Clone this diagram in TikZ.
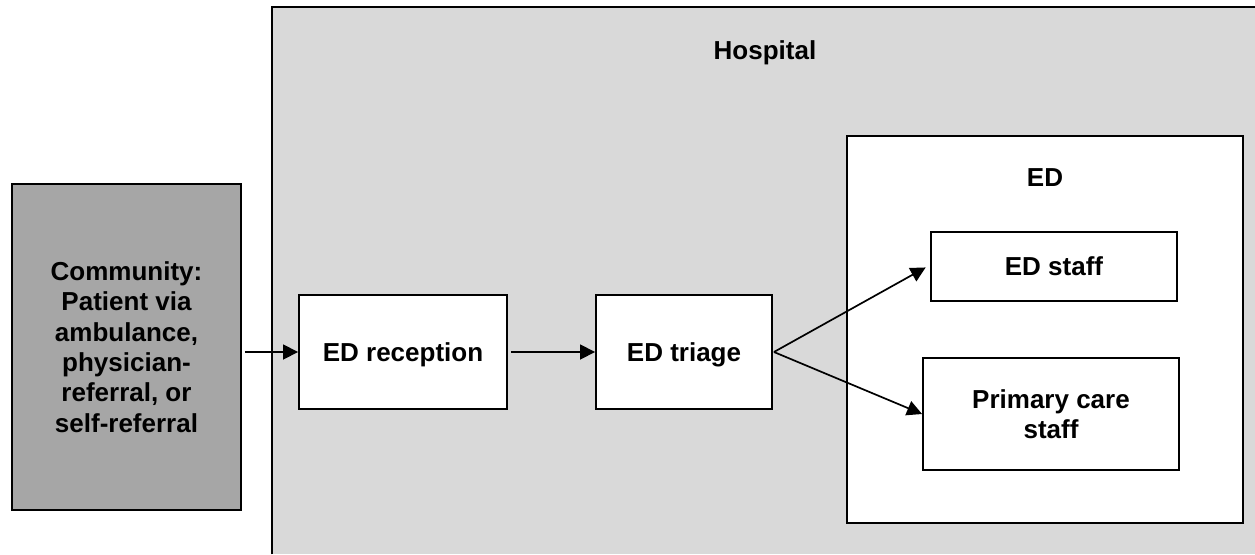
\documentclass[tikz,border=0pt]{standalone}
\usepackage{fontspec}
\setmainfont{Liberation Sans}
\usetikzlibrary{arrows.meta}
\definecolor{commgray}{HTML}{A6A6A6}
\definecolor{hospgray}{HTML}{D9D9D9}
\tikzset{
  lbl/.style={inner sep=0pt, font=\bfseries\fontsize{26}{30.4}\selectfont, align=center},
  box/.style={lbl, draw=black, line width=1.9pt, fill=white},
  arr/.style={line width=1.7pt, draw=black, -{Triangle[length=15pt,width=15pt]}},
  border/.style={line width=1.9pt, draw=black}
}
\begin{document}
\begin{tikzpicture}[x=1pt,y=-1pt]
\useasboundingbox (0,0) rectangle (1255,554);
% hospital area (extends beyond right and bottom edge)
\node[fill=hospgray, inner sep=0pt, minimum width=983pt, minimum height=547pt, anchor=north west] (hosp) at (272,7) {};
\draw[border] (hosp.south west) -- (hosp.north west) -- (hosp.north east);
\node[lbl, text depth=0pt] (hosplbl) at (765,50) {Hospital};
% community
\node[box, fill=commgray, minimum width=229pt, minimum height=326pt] (comm) at (126.5,347)
  {Community:\\Patient via\\ambulance,\\physician-\\referral, or\\self-referral};
% reception, triage
\node[box, text depth=0pt, minimum width=208pt, minimum height=114pt] (recep) at (403,352) {ED reception};
\node[box, text depth=0pt, minimum width=176pt, minimum height=114pt] (triage) at (684,352) {ED triage};
% ED
\node[box, minimum width=396pt, minimum height=387pt] (ed) at (1045,329.5) {};
\node[lbl] (edlbl) at (1045,178) {ED};
\node[box, minimum width=246pt, minimum height=69pt] (staff) at (1054,266.5) {ED staff};
\node[box, minimum width=256pt, minimum height=112pt] (primary) at (1051,414) {Primary care\\staff};
% connectors
\draw[arr, shorten <=3pt] (comm.east |- recep.west) -- (recep.west);
\draw[arr, shorten <=3pt] (recep.east) -- (triage.west);
\coordinate (fan) at ([xshift=1pt]triage.east);
\draw[arr, shorten >=5pt] (fan) -- ([yshift=1.5pt]staff.west);
\draw[arr] (fan) -- (primary.west);
\end{tikzpicture}
\end{document}
